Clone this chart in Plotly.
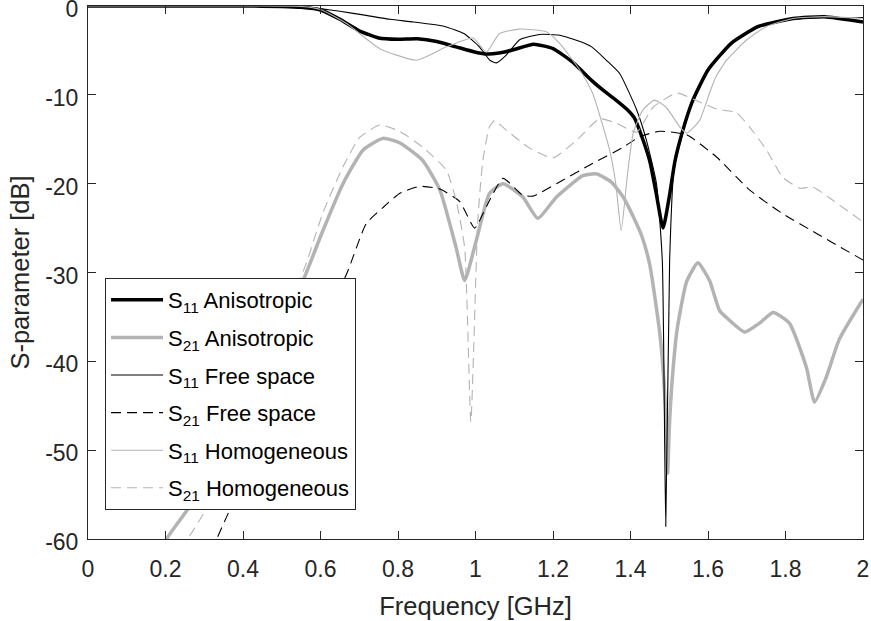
import plotly.graph_objects as go

# ---- data (frequency in GHz, S-parameter in dB) ----
f_s11_aniso = [0, 0.2, 0.4, 0.5, 0.55, 0.6, 0.65, 0.7, 0.75, 0.8, 0.85, 0.9, 0.95, 1.0, 1.03, 1.06,
               1.1, 1.15, 1.2, 1.25, 1.30, 1.33, 1.36, 1.39, 1.41, 1.43, 1.45, 1.466, 1.484, 1.50, 1.515,
               1.535, 1.56, 1.60, 1.66, 1.73, 1.82, 1.9, 2.0]
s11_aniso = [0, 0, 0, -0.05, -0.15, -0.45, -1.5, -2.8, -3.6, -3.75, -3.7, -4.0, -4.6, -5.2, -5.4, -5.3,
             -4.9, -4.3, -4.8, -6.3, -8.4, -9.5, -10.5, -11.6, -12.6, -14.8, -17.5, -21.0, -25.0, -21.5, -17.4,
             -14.0, -10.7, -7.2, -4.2, -2.3, -1.4, -1.2, -1.8]

f_s21_aniso = [0.18, 0.203, 0.255, 0.35, 0.45, 0.559, 0.606, 0.658, 0.71, 0.761, 0.804, 0.864, 0.908,
               0.95, 0.972, 1.002, 1.036, 1.071, 1.122, 1.161, 1.209, 1.277, 1.312, 1.35, 1.381, 1.406,
               1.43, 1.45, 1.476, 1.49, 1.496, 1.50, 1.506, 1.52, 1.545, 1.574, 1.604, 1.63, 1.651, 1.695,
               1.733, 1.768, 1.81, 1.854, 1.875, 1.905, 1.939, 2.0]
s21_aniso = [-63, -60, -56.8, -50, -41, -30.5, -25.3, -20, -16.2, -14.9, -15.4, -17.4, -20.7,
             -27.2, -30.9, -26.4, -21.1, -20.0, -21.5, -23.9, -21.5, -19.1, -18.9, -19.8, -21.5, -23.6,
             -26.0, -29.2, -37.0, -45.0, -52.6, -47.5, -43.0, -36.5, -31.0, -28.9, -30.9, -34.3, -35.2, -36.7,
             -35.7, -34.5, -35.7, -40.7, -44.6, -41.8, -37.5, -33.0]

f_s11_free = [0, 0.4, 0.55, 0.6, 0.65, 0.71, 0.78, 0.84, 0.92, 0.97, 1.01, 1.037, 1.054, 1.08, 1.114,
              1.166, 1.217, 1.27, 1.30, 1.34, 1.372, 1.416, 1.441, 1.467, 1.482, 1.491, 1.501, 1.512,
              1.535, 1.56, 1.60, 1.66, 1.73, 1.82, 1.9, 2.0]
s11_free = [0, 0, -0.05, -0.3, -0.6, -1.0, -1.5, -1.8, -2.3, -3.1, -4.6, -6.1, -6.4, -5.5, -3.8,
            -3.2, -3.3, -4.0, -4.6, -6.2, -7.6, -11.7, -15.1, -20.0, -28.6, -58.6, -28.6, -18.5,
            -14.3, -10.8, -7.3, -4.3, -2.4, -1.5, -1.3, -1.3]

f_s21_free = [0.30, 0.332, 0.361, 0.45, 0.55, 0.667, 0.718, 0.761, 0.804, 0.856, 0.908, 0.959, 0.998,
              1.028, 1.071, 1.122, 1.148, 1.209, 1.295, 1.381, 1.424, 1.476, 1.545, 1.622, 1.707,
              1.793, 1.88, 2.0]
s21_free = [-63, -60, -57.2, -49.4, -40.6, -30.2, -24.5, -22.7, -21.1, -20.3, -20.6, -22.0, -25.0,
            -22.6, -19.4, -21.3, -21.4, -20.0, -17.9, -15.9, -14.7, -14.1, -14.5, -17.0, -20.7,
            -23.4, -25.6, -28.6]

f_s11_homo = [0, 0.4, 0.55, 0.6, 0.668, 0.753, 0.848, 0.925, 0.994, 1.028, 1.062, 1.114, 1.183, 1.217,
              1.269, 1.302, 1.346, 1.362, 1.376, 1.392, 1.407, 1.432, 1.462, 1.492, 1.527, 1.545,
              1.578, 1.604, 1.62, 1.648, 1.70, 1.751, 1.82, 1.9, 2.0]
s11_homo = [0, 0, -0.05, -0.4, -2.0, -4.8, -6.1, -4.6, -3.6, -5.2, -3.1, -2.6, -2.9, -4.2,
            -7.2, -9.8, -16.2, -20.0, -25.3, -19.0, -14.3, -11.7, -10.6, -11.4, -13.6, -14.3,
            -12.9, -9.8, -8.0, -6.1, -3.8, -2.3, -1.4, -1.2, -1.4]

f_s21_homo = [0.23, 0.258, 0.297, 0.4, 0.5, 0.563, 0.606, 0.658, 0.701, 0.753, 0.804, 0.864, 0.925,
              0.95, 0.972, 0.988, 1.006, 1.019, 1.036, 1.049, 1.08, 1.14, 1.2, 1.261, 1.32, 1.364,
              1.416, 1.458, 1.52, 1.578, 1.622, 1.673, 1.707, 1.751, 1.793, 1.837, 1.871, 1.923, 2.0]
s21_homo = [-63, -60, -57.2, -47, -36, -29.0, -23.3, -18.1, -14.8, -13.4, -14.1, -15.9, -18.5,
            -21.9, -27.2, -46.8, -24.1, -17.4, -13.6, -12.9, -14.0, -16.0, -17.1, -15.1, -12.7, -13.2,
            -14.2, -11.4, -9.8, -10.8, -11.6, -12.0, -13.6, -16.2, -19.3, -20.5, -20.4, -21.9, -24.3]

series_names = ["S<sub>11</sub> Anisotropic", "S<sub>21</sub> Anisotropic",
                "S<sub>11</sub> Free space", "S<sub>21</sub> Free space",
                "S<sub>11</sub> Homogeneous", "S<sub>21</sub> Homogeneous"]

x_ticks = [0, 0.2, 0.4, 0.6, 0.8, 1, 1.2, 1.4, 1.6, 1.8, 2]
x_ticklabels = ["0", "0.2", "0.4", "0.6", "0.8", "1", "1.2", "1.4", "1.6", "1.8", "2"]
y_ticks = [-60, -50, -40, -30, -20, -10, 0]
y_ticklabels = ["-60", "-50", "-40", "-30", "-20", "-10", "0"]

BLACK = "#000000"
GREY = "#b3b3b3"

styles = [
    dict(color=BLACK, width=3.5, dash="solid"),
    dict(color=GREY, width=3.5, dash="solid"),
    dict(color=BLACK, width=1.1, dash="solid"),
    dict(color=BLACK, width=1.1, dash="10px,6px"),
    dict(color=GREY, width=1.1, dash="solid"),
    dict(color=GREY, width=1.1, dash="10px,6px"),
]
data = [(f_s11_aniso, s11_aniso), (f_s21_aniso, s21_aniso), (f_s11_free, s11_free),
        (f_s21_free, s21_free), (f_s11_homo, s11_homo), (f_s21_homo, s21_homo)]

fig = go.Figure()
for i, ((fx, fy), name, st) in enumerate(zip(data, series_names, styles)):
    fig.add_trace(go.Scatter(x=fx, y=fy, mode="lines", name=name, legendgroup=f"g{i}",
                             line=dict(color=st["color"], width=st["width"], dash=st["dash"],
                                       shape="spline", smoothing=0.5)))

FONT = "Liberation Sans, Arial, Helvetica, sans-serif"
AX = "#262626"
fig.update_layout(
    width=871, height=621,
    margin=dict(l=88, r=8, t=6, b=82, autoexpand=False),
    paper_bgcolor="white", plot_bgcolor="white",
    font=dict(family=FONT, size=22, color=AX),
    showlegend=True,
    legend=dict(x=0.022, y=0.4897, xanchor="left", yanchor="top",
                bgcolor="white", bordercolor=AX, borderwidth=1,
                font=dict(family=FONT, size=22, color="#000000"),
                itemwidth=52, traceorder="grouped", tracegroupgap=6),
    xaxis=dict(range=[0, 2], tickvals=x_ticks, ticktext=x_ticklabels, automargin=False,
               showgrid=False, zeroline=False, showline=True, linecolor=AX, linewidth=1,
               mirror="allticks", ticks="inside", ticklen=8, tickcolor=AX,
               tickfont=dict(size=23, color=AX), ticklabelstandoff=9, ticklabeloverflow="allow",
               title=dict(text="Frequency [GHz]", font=dict(size=25.5, color=AX), standoff=16)),
    yaxis=dict(range=[-60, 0], tickvals=y_ticks, ticktext=y_ticklabels, automargin=False,
               showgrid=False, zeroline=False, showline=True, linecolor=AX, linewidth=1,
               mirror="allticks", ticks="inside", ticklen=8, tickcolor=AX,
               tickfont=dict(size=23, color=AX), ticklabelstandoff=4, ticklabelshift=3,
               ticklabeloverflow="allow",
               title=dict(text="S-parameter [dB]", font=dict(size=25.5, color=AX), standoff=8)),
)

fig.write_html("out.html", config={"displayModeBar": False},
               post_script="document.body.style.margin='0';")
